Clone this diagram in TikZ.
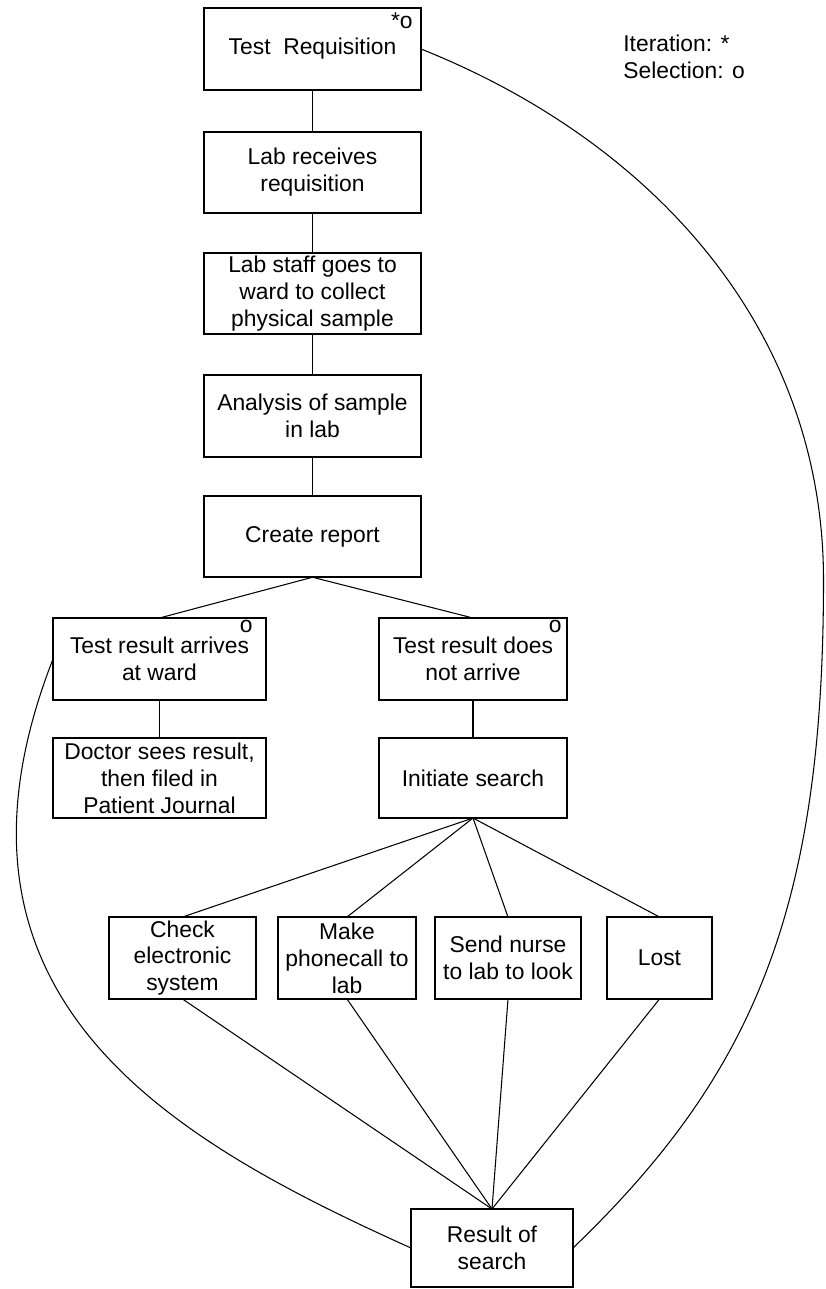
\documentclass[tikz,border=0pt]{standalone}
\usepackage{fontspec}
\setmainfont{Liberation Sans}
\usepackage{tkz-graph}

\tikzset{
  VertexStyle/.style = {draw, rectangle, fill = white, inner sep = 0pt, align = center,
                        font = \fontsize{13}{15.3}\selectfont, line width = 1pt},
  EdgeStyle/.style = {draw, line width = 0.6pt},
  LabelStyle/.style = {inner sep = 0pt},
  mainbox/.style = {minimum width = 4.34cm, minimum height = 1.63cm},
  signmark/.style = {inner sep = 0pt, font = \fontsize{13}{15.3}\selectfont},
  legendtext/.style = {inner sep = 0pt, align = left, font = \fontsize{13}{15.3}\selectfont}
}

\begin{document}
\begin{tikzpicture}
\useasboundingbox (0, 0) rectangle (16.5, -25.78);
\Vertex[style = {mainbox}, x = 6.25, y = -0.98, L = {Test~ Requisition}]{req}
\Vertex[style = {mainbox}, x = 6.25, y = -3.45, L = {Lab receives\\requisition}]{recv}
\Vertex[style = {mainbox}, x = 6.25, y = -5.87, L = {Lab staff goes to\\ward to collect\\physical sample}]{staff}
\Vertex[style = {mainbox}, x = 6.25, y = -8.32, L = {Analysis of sample\\in lab}]{anal}
\Vertex[style = {mainbox}, x = 6.25, y = -10.73, L = {Create report}]{crep}
\Vertex[style = {minimum width = 4.26cm, minimum height = 1.64cm}, x = 3.19, y = -13.18, L = {Test result arrives\\at ward}]{arrives}
\Vertex[style = {minimum width = 3.76cm, minimum height = 1.64cm}, x = 9.46, y = -13.18, L = {Test result does\\not arrive}]{notarr}
\Vertex[style = {minimum width = 4.26cm, minimum height = 1.6cm}, x = 3.19, y = -15.56, L = {Doctor sees result,\\then filed in\\Patient Journal}]{doctor}
\Vertex[style = {minimum width = 3.76cm, minimum height = 1.6cm}, x = 9.46, y = -15.56, L = {Initiate search}]{search}
\Vertex[style = {minimum width = 2.94cm, minimum height = 1.64cm}, x = 3.65, y = -19.16, L = {Check\\electronic\\system}]{check}
\Vertex[style = {minimum width = 2.76cm, minimum height = 1.64cm}, x = 6.94, y = -19.16, L = {Make\\phonecall to\\lab}]{phone}
\Vertex[style = {minimum width = 2.92cm, minimum height = 1.64cm}, x = 10.16, y = -19.16, L = {Send nurse\\to lab to look}]{nurse}
\Vertex[style = {minimum width = 2.1cm, minimum height = 1.64cm}, x = 13.19, y = -19.16, L = {Lost}]{lost}
\Vertex[style = {minimum width = 3.24cm, minimum height = 1.56cm}, x = 9.84, y = -24.96, L = {Result of\\search}]{res}
\node[signmark, anchor = base east] (reqsign) at ([xshift = -0.16cm, yshift = -0.4cm]req.north east) {*o};
\node[signmark, anchor = base east] (arrsign) at ([xshift = -0.26cm, yshift = -0.29cm]arrives.north east) {o};
\node[signmark, anchor = base east] (notsign) at ([xshift = -0.1cm, yshift = -0.29cm]notarr.north east) {o};
\node[legendtext, anchor = north west] (key) at (12.46, -0.7) {Iteration: *\\Selection: o};
\Edge(req.south)(recv.north)
\Edge(recv.south)(staff.north)
\Edge(staff.south)(anal.north)
\Edge(anal.south)(crep.north)
\Edge(crep.south)(arrives.north)
\Edge(crep.south)(notarr.north)
\Edge(arrives.south)(doctor.north)
\Edge(notarr.south)(search.north)
\Edge(search.south)(check.north)
\Edge(search.south)(phone.north)
\Edge(search.south)(nurse.north)
\Edge(search.south)(lost.north)
\Edge(check.south)(res.north)
\Edge(phone.south)(res.north)
\Edge(nurse.south)(res.north)
\Edge(lost.south)(res.north)
\draw[EdgeStyle] (req.east) .. controls (13.08, -2.84) and (16.47, -6.6) .. (16.47, -11.6)
  .. controls (16.47, -18.2) and (15.06, -21.5) .. (res.east);
\draw[EdgeStyle] (arrives.west) .. controls (-1.6, -20.0) and (3.48, -22.82) .. (res.west);
\end{tikzpicture}
\end{document}
